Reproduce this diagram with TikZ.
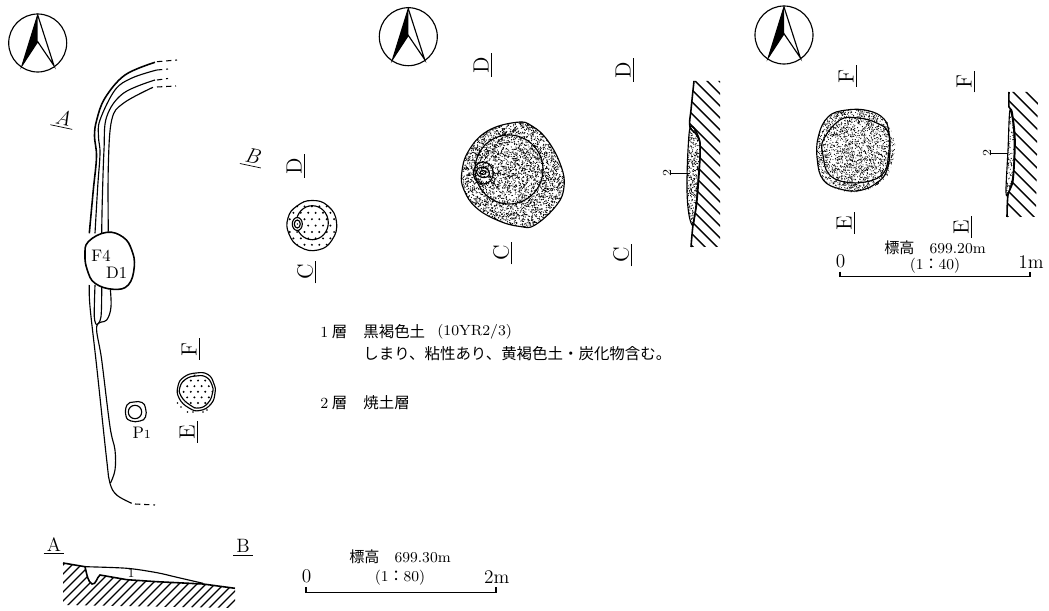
\documentclass[tikz,border=0pt]{standalone}
\usepackage{fontspec}
\newfontfamily\jpfont{Noto Sans CJK JP}

\begin{document}
\begin{tikzpicture}[x=0.02cm,y=-0.02cm]
\tikzset{planline/.style = {line width=0.65pt}}
\tikzset{thickline/.style = {line width=0.9pt}}
\tikzset{hatchline/.style = {line width=0.8pt}}
\tikzset{dashline/.style = {line width=0.6pt, dash pattern=on 3pt off 2.2pt}}
\tikzset{sectlabel/.style = {inner sep=0pt, rotate=90, font=\fontsize{12.5}{13}\selectfont}}
\tikzset{slantlabel/.style = {inner sep=0pt, rotate=-12, font=\fontsize{12}{12}\selectfont\itshape}}
\tikzset{endlabel/.style = {inner sep=0pt, font=\fontsize{11}{11}\selectfont}}
\tikzset{smalllabel/.style = {inner sep=0pt, font=\fontsize{9.5}{10}\selectfont}}
\tikzset{notelabel/.style = {inner sep=0pt, anchor=west, font=\fontsize{8.8}{10}\selectfont\jpfont}}
\tikzset{scalelabel/.style = {inner sep=0pt, font=\fontsize{11}{11}\selectfont}}
\tikzset{heightlabel/.style = {inner sep=0pt, font=\fontsize{8.6}{9}\selectfont}}
\useasboundingbox (0,0) rectangle (1049,611);

\foreach \cx/\cy in {37.7/43, 408.3/36.7, 784/35} {
  \draw[planline] (\cx,\cy) circle (29);
  \fill ({\cx},{\cy-28}) -- ({\cx-15.7},{\cy+22.7}) -- ({\cx},{\cy-1.3}) -- cycle;
  \draw[planline] ({\cx-15.7},{\cy+22.7}) -- ({\cx},{\cy-28}) -- ({\cx+16.3},{\cy+22.7}) -- ({\cx},{\cy-1.3}) -- cycle;
}

% trench
\draw[thickline] plot[smooth, tension=0.6] coordinates {(155,62.3) (125,75) (105,98) (96.7,120) (94.5,136) (96.5,156.7) (93.3,190) (89.3,233.3)};
\draw[planline] plot[smooth, tension=0.6] coordinates {(156.7,70) (132,78) (115,90) (100,120) (98.5,136.7) (100,153.3) (97.7,186.7) (95,233.3)};
\draw[planline] plot[smooth, tension=0.6] coordinates {(155,80) (123.3,93.3) (106.7,116.7) (104,150) (102.3,200) (101.7,233)};
\draw[planline] plot[smooth, tension=0.6] coordinates {(153,87.3) (123.3,103.3) (111.7,120) (108.3,166.7) (108.3,231.7)};
\draw[planline] plot[smooth, tension=0.6] coordinates {(89.3,285) (90,306.7) (96.7,366.7) (106.7,460) (110,483.3) (116.7,495) (131.7,503.3)};
\draw[planline] plot[smooth, tension=0.6] coordinates {(95,285) (94.3,316.7) (96.7,325)};
\draw[planline] plot[smooth, tension=0.6] coordinates {(101.7,285) (101,316.7) (96.7,325)};
\draw[planline] plot[smooth, tension=0.6] coordinates {(110,285) (111,306.7) (106.7,320) (96.7,326.7) (101.7,360) (110,426.7) (115,450) (115,470) (110.5,483)};
\coordinate (t1a) at (157,61.7);
\coordinate (t1b) at (177,60);
\coordinate (t2a) at (157,70);
\coordinate (t2b) at (168,69);
\coordinate (t3a) at (157,80);
\coordinate (t3b) at (168,78.5);
\coordinate (t4a) at (157,87);
\coordinate (t4b) at (176,86);
\coordinate (t5a) at (135,504);
\coordinate (t5b) at (155,505);
\draw[dashline] (t1a) -- (t1b);
\draw[dashline] (t2a) -- (t2b);
\draw[dashline] (t3a) -- (t3b);
\draw[dashline] (t4a) -- (t4b);
\draw[dashline] (t5a) -- (t5b);
\draw[thickline, fill=white] plot[smooth cycle, tension=0.7] coordinates {(106.7,232.3) (123.3,237.3) (131.7,250) (134.3,266.7) (128.3,285) (113.3,289.3) (95,283.3) (87.3,270) (85,255) (88.3,241.7)};
\node[smalllabel] (f4) at (101,256) {F4};
\node[smalllabel] (d1) at (116.7,272.7) {D1};
\draw[planline] plot[smooth cycle, tension=0.8] coordinates {(127,405) (134,402) (142,402.5) (145.5,408) (145.5,417) (140,421) (131,421) (126,416)};
\draw[planline] (135,412) circle (6.7);
\node[smalllabel] (p1) at (141.7,432.5) {P{\fontsize{7}{7}\selectfont 1}};
\node[slantlabel] (labA) at (63,119) {\underline{\,A\,}};
\node[slantlabel] (labB) at (252,158) {\underline{\,B\,}};

% small plans
\begin{scope}
\clip (312.3,225) ellipse (24.7 and 25);
\foreach \i in {0,...,7} { \foreach \j in {0,...,8} {
  \fill ({286+\i*7.4+mod(\j,2)*3.7},{200+\j*6.4}) circle (1.1);
} }
\end{scope}
\draw[planline] plot[smooth cycle, tension=0.8] coordinates {(312,200.5) (328,206) (336.5,222) (332,240) (318,250) (300,247) (289,234) (288,218) (297,206)};
\draw[planline] (312.3,222.7) ellipse (16 and 17);
\draw[planline, fill=white] (297.3,224) ellipse (5 and 6.5);
\draw[planline] (297.3,224) ellipse (3 and 4);
\fill (297.3,224) circle (0.8);
\node[sectlabel] (labD) at (296,166) {\underline{\,D\,}};
\node[sectlabel] (labC) at (307,272) {\underline{\,C\,}};

\begin{scope}
\clip (196.7,391.5) ellipse (16.5 and 17);
\foreach \i in {0,...,5} { \foreach \j in {0,...,6} {
  \fill ({180+\i*7.2+mod(\j,2)*3.6},{375+\j*5.6}) circle (1.1);
} }
\end{scope}
\draw[planline] plot[smooth cycle, tension=0.8] coordinates {(196,373) (208,374.5) (214,384) (215,393) (211,404) (200,410.5) (189,408) (179,398) (178,386) (184,377)};
\draw[planline] plot[smooth cycle, tension=0.8] coordinates {(196,376) (206,377) (212,385) (212.5,393) (208,403) (199,408) (190,405) (181,396) (180,387) (186,379)};
\foreach \dx/\dy in {177.5/403, 181/407, 187.5/412, 193/412, 203/412, 207/410} { \fill (\dx,\dy) circle (0.8); }
\node[sectlabel] (labF) at (191,349) {\underline{\,F\,}};
\node[sectlabel] (labE) at (189,431.7) {\underline{\,E\,}};

% plan C-D
\begin{scope}
\clip plot[smooth cycle, tension=0.7] coordinates {(516.7,122.3) (532,126) (548,141) (561,166) (564,186.7) (556.7,205) (535,225) (520,226.5) (498,220.5) (476,207.5) (464,190) (461.7,173.3) (468.5,151) (487.5,131)};
\pgfmathsetseed{17}
\foreach \i in {1,...,4500} { \fill ({458+110*rnd},{119+110*rnd}) circle (0.6); }
\end{scope}
\draw[planline] plot[smooth cycle, tension=0.7] coordinates {(516.7,122.3) (532,126) (548,141) (561,166) (564,186.7) (556.7,205) (535,225) (520,226.5) (498,220.5) (476,207.5) (464,190) (461.7,173.3) (468.5,151) (487.5,131)};
\draw[planline] (509,169.5) ellipse (34 and 34.5);
\draw[planline] (483.3,173) ellipse (10 and 11);
\draw[planline, rotate around={-15:(483,172.5)}] (483,172.5) ellipse (6.5 and 5);
\draw[planline] (483,172.5) ellipse (3 and 2);

% section C-D
\begin{scope}
\clip (694,81) -- (691,110) -- (690,127) -- (700,143) -- (697,200) -- (693,225) -- (691,247) -- (720,247) -- (720,81) -- cycle;
\foreach \k in {-260,-248,...,-40} { \draw[hatchline] (640,\k+250) -- ++(90,90); }
\end{scope}
\draw[thickline] plot[smooth, tension=0.5] coordinates {(694,81) (691,110) (690,127) (700,143) (697,200) (693,225) (691,247)};
\begin{scope}
\clip plot[smooth cycle, tension=0.6] coordinates {(691,126) (700,143) (698,180) (696,205) (693,225) (689,215) (687,190) (688,150)};
\pgfmathsetseed{23}
\foreach \i in {1,...,520} { \fill ({685+17*rnd},{124+103*rnd}) circle (0.6); }
\end{scope}
\draw[planline] plot[smooth cycle, tension=0.6] coordinates {(691,126) (700,143) (698,180) (696,205) (693,225) (689,215) (687,190) (688,150)};
\node[inner sep=0pt, rotate=90, font=\fontsize{7}{7}\selectfont] (lay2a) at (667,173) {2};
\coordinate (lay2aend) at (690,174);
\draw[line width=0.5pt] (lay2a.south) -- (lay2a.south -| lay2aend);
\node[sectlabel] (labDb) at (483,65) {\underline{\,D\,}};
\node[sectlabel] (labCb) at (503,253) {\underline{\,C\,}};
\node[sectlabel] (labDc) at (625,70) {\underline{\,D\,}};
\node[sectlabel] (labCc) at (623,255) {\underline{\,C\,}};

% plan E-F
\begin{scope}
\clip plot[smooth cycle, tension=0.7] coordinates {(846.7,110) (868.3,110.7) (886.7,121.7) (891.7,133.3) (895,146.7) (890,170) (880,183.3) (860,191.7) (840,190) (823.3,180) (817.3,160) (818.3,136.7) (828.3,116.7)};
\pgfmathsetseed{31}
\foreach \i in {1,...,2400} { \fill ({815+82*rnd},{108+86*rnd}) circle (0.55); }
\end{scope}
\draw[planline] plot[smooth cycle, tension=0.7] coordinates {(846.7,110) (868.3,110.7) (884,119) (889,133) (890,150) (887,170) (878,182) (860,190.5) (840,189) (823.3,180) (817.3,160) (818.3,136.7) (828.3,116.7)};
\draw[planline] plot[smooth cycle, tension=0.7] coordinates {(840,120) (858,118) (876.7,123) (888.3,133) (888.3,156.7) (883.3,173.3) (866.7,181.7) (843.3,181.7) (828.3,173.3) (823.3,156.7) (823.3,140)};

% section E-F
\begin{scope}
\clip (1009,92) -- (1009,107) -- (1012,112) -- (1015,140) -- (1013,180) -- (1008,195) -- (1007,217) -- (1036,217) -- (1038,92) -- cycle;
\foreach \k in {-250,-237,...,-60} { \draw[hatchline] (960,\k+250) -- ++(90,90); }
\end{scope}
\draw[thickline] plot[smooth, tension=0.5] coordinates {(1009,92) (1009,107) (1012,112) (1015,140) (1013,180) (1008,195) (1007,217)};
\begin{scope}
\clip plot[smooth cycle, tension=0.6] coordinates {(1010,110) (1014,135) (1013,175) (1008,194) (1006,190) (1008,150)};
\pgfmathsetseed{41}
\foreach \i in {1,...,220} { \fill ({1005+11*rnd},{109+86*rnd}) circle (0.55); }
\end{scope}
\draw[planline] plot[smooth cycle, tension=0.6] coordinates {(1010,110) (1014,135) (1013,175) (1008,194) (1006,190) (1008,150)};
\node[inner sep=0pt, rotate=90, font=\fontsize{7}{7}\selectfont] (lay2b) at (987,153) {2};
\coordinate (lay2bend) at (1008,153);
\draw[line width=0.5pt] (lay2b.south) -- (lay2b.south -| lay2bend);
\node[sectlabel] (labFb) at (848,76) {\underline{\,F\,}};
\node[sectlabel] (labEb) at (846,222.7) {\underline{\,E\,}};
\node[sectlabel] (labFc) at (966,81.7) {\underline{\,F\,}};
\node[sectlabel] (labEc) at (963,226.7) {\underline{\,E\,}};

% profile A-B
\begin{scope}
\clip (63,563) -- (85,566.7) -- (90,583.3) -- (95,584) -- (100,575) -- (127,579.7) -- (157,581.7) -- (203,584) -- (235,588.3) -- (235,608) -- (63,605) -- cycle;
\foreach \k in {0,9,...,320} { \draw[hatchline] (\k,610) -- ++(50,-50); }
\end{scope}
\draw[thickline] (63,563) -- (85,566.7) .. controls (87,575) and (88,582) .. (92,584) .. controls (96,585) and (97,577) .. (100,575) -- (127,579.7) -- (157,581.7) -- (203,584) -- (235,588.3);
\draw[planline] plot[smooth, tension=0.5] coordinates {(85,566.7) (127,568.3) (157,572.7) (177,577.3) (203,583.3)};
\node[inner sep=0pt, font=\fontsize{7}{7}\selectfont] (lay1) at (131,573.5) {1};
\node[endlabel] (labAb) at (54,546) {\underline{\,A\,}};
\node[endlabel] (labBb) at (243,548) {\underline{\,B\,}};

% scale 1:80
\node[scalelabel] (zeroa) at (306.7,576.7) {0};
\node[scalelabel] (twom) at (496.7,577.3) {2m};
\node[heightlabel] (heighta) at (400,556.5) {{\jpfont 標高}\hspace{1em}699.30m};
\node[heightlabel] (ratioa) at (400,577.7) {(1{\jpfont ：}80)};
\draw[thickline] (306,587.3) -- (306,592.3) -- (496,592.3) -- (496,587.3);

% scale 1:40
\node[scalelabel] (zerob) at (840.7,261.7) {0};
\node[scalelabel] (onem) at (1031,261.7) {1m};
\node[heightlabel] (heightb) at (935,248) {{\jpfont 標高}\hspace{1em}699.20m};
\node[heightlabel] (ratiob) at (935,266) {(1{\jpfont ：}40)};
\draw[thickline] (840,271.7) -- (840,276.7) -- (1030,276.7) -- (1030,271.7);

% notes
\node[notelabel] (n1a) at (320,332) {{\rmfamily 1} 層};
\node[notelabel] (n1b) at (363,332) {黒褐色土};
\node[notelabel, font=\fontsize{8.4}{10}\selectfont] (n1d) at (437,332) {(10YR2/3)};
\node[notelabel] (n1c) at (363,354) {しまり、粘性あり、黄褐色土・炭化物含む。};
\node[notelabel] (n2a) at (320,403) {{\rmfamily 2} 層};
\node[notelabel] (n2b) at (363,403) {焼土層};
\end{tikzpicture}
\end{document}
